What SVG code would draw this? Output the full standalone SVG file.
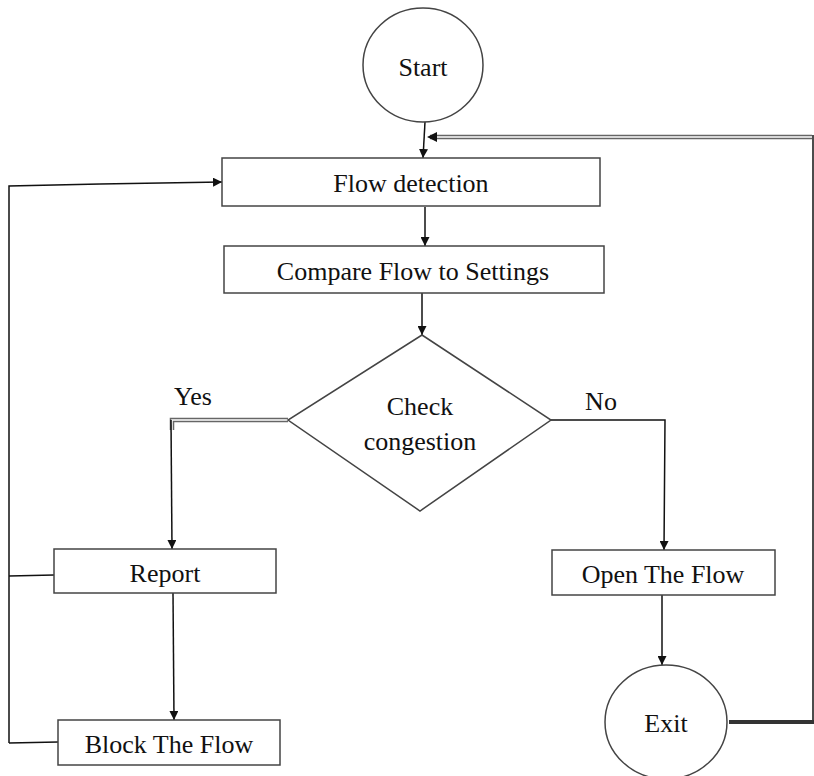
<svg xmlns="http://www.w3.org/2000/svg" width="814" height="776" viewBox="0 0 814 776">
<defs>
<style>
.shape{fill:#fff;stroke:#444;stroke-width:1.5}
.lbl{font-family:'Liberation Serif','DejaVu Serif','Times New Roman',serif;font-size:26px;fill:#111;text-anchor:middle}
.ln{fill:none;stroke:#111;stroke-width:1.5}
.dbl{fill:none;stroke:#666;stroke-width:4.5}
.dblin{fill:none;stroke:#fff;stroke-width:1.5}
</style>
<marker id="ah" viewBox="0 0 10 10" refX="10" refY="5" markerWidth="9" markerHeight="9" markerUnits="userSpaceOnUse" orient="auto">
<path d="M0,0 L10,5 L0,10 z" fill="#111"/>
</marker>
</defs>
<rect width="814" height="776" fill="#fff"/>
<g id="connectors">
<line class="ln" x1="425" y1="122" x2="423" y2="158" marker-end="url(#ah)" stroke-width="2"/>
<polyline class="dbl" points="812,137 430,137"/>
<polyline class="dblin" points="812,137 430,137"/>
<path d="M437,132 L427,137 L437,142 z" fill="#111"/>
<line class="ln" x1="813" y1="135" x2="813" y2="724"/>
<line x1="729" y1="722" x2="814" y2="722" stroke="#333" stroke-width="4"/>
<line class="ln" x1="425" y1="207" x2="425" y2="246" marker-end="url(#ah)"/>
<line class="ln" x1="422" y1="293" x2="422" y2="335" marker-end="url(#ah)"/>
<polyline class="ln" points="9,743 9,186 100,184"/>
<line class="ln" x1="100" y1="184" x2="222" y2="182" marker-end="url(#ah)" stroke-width="2"/>
<line class="ln" x1="9" y1="576" x2="54" y2="575"/>
<line class="ln" x1="9" y1="743" x2="58" y2="742"/>
<polyline class="dbl" points="288,420 172,420 172,430"/>
<polyline class="dblin" points="288,420 172,420 172,430"/>
<line class="ln" x1="171" y1="420" x2="172" y2="549" marker-end="url(#ah)"/>
<polyline class="ln" points="551,420 665,420 664,550" stroke-width="2" marker-end="url(#ah)"/>
<line class="ln" x1="173" y1="593" x2="174" y2="720" marker-end="url(#ah)"/>
<line class="ln" x1="662" y1="595" x2="662" y2="665" marker-end="url(#ah)"/>
</g>
<g id="start">
<ellipse class="shape" cx="423" cy="65" rx="60" ry="57"/>
<text class="lbl" x="423" y="76" font-family="Liberation Serif, serif">Start</text>
</g>
<g id="flow-detection">
<rect class="shape" x="222" y="158" width="378" height="48"/>
<text class="lbl" x="411" y="192">Flow detection</text>
</g>
<g id="compare">
<rect class="shape" x="224" y="246" width="380" height="47"/>
<text class="lbl" x="413" y="280">Compare Flow to Settings</text>
</g>
<g id="check">
<polygon class="shape" points="422,335 551,420 420,511 288,420"/>
<text class="lbl" x="420" y="415">Check</text>
<text class="lbl" x="420" y="450">congestion</text>
</g>
<g id="labels">
<text class="lbl" x="193" y="405">Yes</text>
<text class="lbl" x="601" y="410">No</text>
</g>
<g id="report">
<rect class="shape" x="54" y="549" width="222" height="44"/>
<text class="lbl" x="165" y="582">Report</text>
</g>
<g id="block">
<rect class="shape" x="58" y="720" width="222" height="45"/>
<text class="lbl" x="169" y="753">Block The Flow</text>
</g>
<g id="open">
<rect class="shape" x="552" y="550" width="223" height="45"/>
<text class="lbl" x="663" y="583">Open The Flow</text>
</g>
<g id="exit">
<ellipse class="shape" cx="666" cy="722" rx="61" ry="57"/>
<text class="lbl" x="666" y="732">Exit</text>
</g>
</svg>
